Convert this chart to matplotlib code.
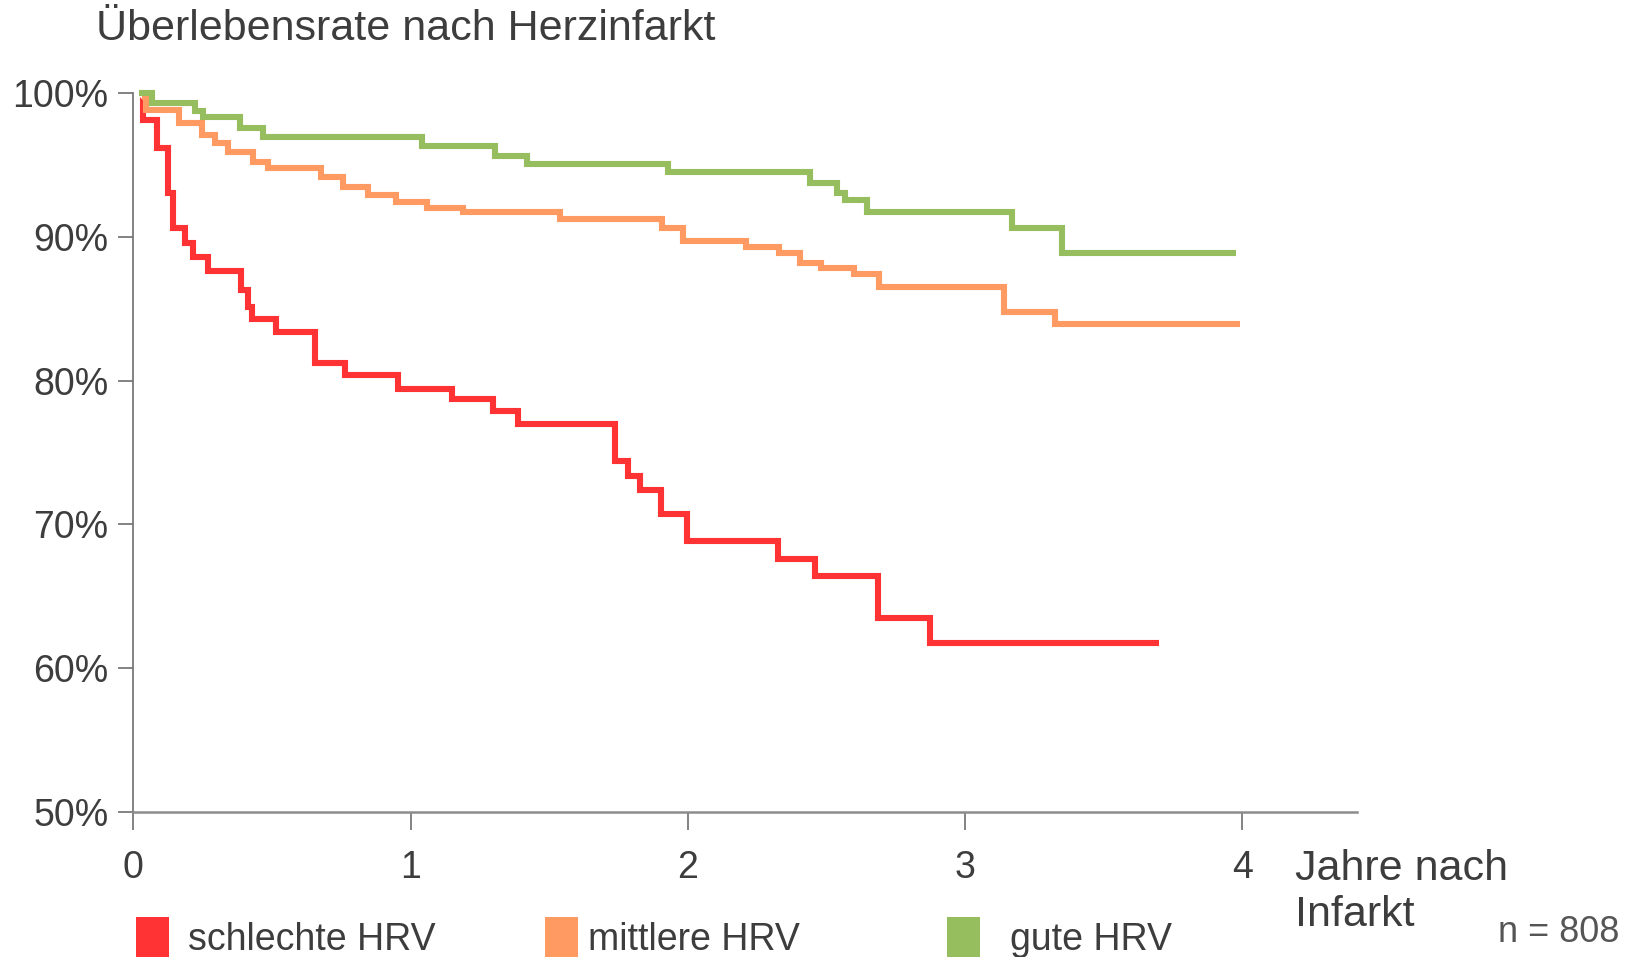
import matplotlib
matplotlib.use("Agg")
import matplotlib.pyplot as plt
from matplotlib.patches import Rectangle

plt.rcParams['font.family'] = ['Liberation Sans', 'DejaVu Sans']

# Kaplan-Meier Kurven: Zeit in Jahren, Ueberlebensrate in %
schlecht_t = [0.03, 0.035, 0.084, 0.126, 0.144, 0.187, 0.216, 0.271, 0.39, 0.415, 0.427, 0.515, 0.655, 0.764,
              0.956, 1.149, 1.299, 1.389, 1.738, 1.786, 1.828, 1.904, 1.996, 2.327, 2.459, 2.686, 2.874, 3.701]
schlecht_s = [99.7, 98.12, 96.15, 93.03, 90.59, 89.55, 88.62, 87.64, 86.30, 85.14, 84.30, 83.40, 81.24, 80.39,
              79.40, 78.72, 77.89, 76.96, 74.41, 73.39, 72.39, 70.70, 68.87, 67.57, 66.38, 63.51, 61.77, 61.77]

mittel_t = [0.03, 0.045, 0.166, 0.247, 0.295, 0.343, 0.433, 0.487, 0.677, 0.758, 0.848, 0.947, 1.058, 1.19,
            1.54, 1.906, 1.984, 2.21, 2.33, 2.405, 2.48, 2.60, 2.69, 3.14, 3.325, 3.992]
mittel_s = [99.7, 98.82, 97.89, 97.08, 96.50, 95.92, 95.22, 94.76, 94.18, 93.48, 92.88, 92.44, 92.02, 91.75,
            91.22, 90.59, 89.73, 89.31, 88.89, 88.16, 87.81, 87.41, 86.53, 84.79, 83.92, 83.92]

gut_t = [0.02, 0.068, 0.223, 0.253, 0.385, 0.469, 1.04, 1.305, 1.419, 1.93, 2.439, 2.537, 2.567, 2.646,
         3.169, 3.349, 3.978]
gut_s = [100.0, 99.33, 98.77, 98.31, 97.55, 96.92, 96.31, 95.62, 95.06, 94.49, 93.72, 93.03, 92.56, 91.75,
         90.59, 88.85, 88.85]

labels = ["schlechte HRV", "mittlere HRV", "gute HRV"]
colors = ["#ff3333", "#ff9a62", "#96be5e"]
y_ticks = [50, 60, 70, 80, 90, 100]
x_ticks = [0, 1, 2, 3, 4]

fig = plt.figure(figsize=(16.38, 9.57), dpi=100)
ax = fig.add_axes([0.0814, 0.1515, 0.7471, 0.7513])

for t, s, c in zip([schlecht_t, mittel_t, gut_t], [schlecht_s, mittel_s, gut_s], colors):
    ax.step(t, s, where='post', color=c, lw=4.4, clip_on=False,
            solid_joinstyle='miter', solid_capstyle='butt')

ax.set_xlim(0, 4.414)
ax.set_ylim(50, 100)
ax.set_yticks(y_ticks)
ax.set_yticklabels([f"{v}%" for v in y_ticks])
ax.set_xticks(x_ticks)

for side in ['top', 'right']:
    ax.spines[side].set_visible(False)
ax.spines['left'].set_color('#6e6e6e')
ax.spines['left'].set_linewidth(1.2)
ax.spines['bottom'].set_color('#8c8c8c')
ax.spines['bottom'].set_linewidth(1.8)

txt = '#3d3d3d'
ax.tick_params(axis='y', direction='out', length=11, width=1.2, color='#6e6e6e',
               pad=7, labelsize=27, labelcolor=txt)
ax.tick_params(axis='x', direction='out', length=13, width=1.2, color='#6e6e6e',
               pad=14, labelsize=27, labelcolor=txt)

fig.text(96 / 1638, 1 - 29 / 957, "Überlebensrate nach Herzinfarkt",
         ha='left', va='center', fontsize=31, color=txt)

# Achsentitel rechts neben der x-Achse
for line, ypx in zip(["Jahre nach", "Infarkt"], [869, 915]):
    fig.text(1295 / 1638, 1 - ypx / 957, line, ha='left', va='center', fontsize=31, color=txt)

# Legende unten
sq_x = [136, 545, 947]
tx_x = [188, 588, 1010]
for lab, c, sx, tx in zip(labels, colors, sq_x, tx_x):
    fig.add_artist(Rectangle((sx / 1638, 0), 33 / 1638, 40 / 957,
                             transform=fig.transFigure, color=c, lw=0))
    fig.text(tx / 1638, 1 - 940 / 957, lab, ha='left', va='center', fontsize=27, color=txt)

fig.text(1619 / 1638, 1 - 933 / 957, "n = 808", ha='right', va='center',
         fontsize=26, color='#555555')

fig.savefig("out.png", dpi=100)
